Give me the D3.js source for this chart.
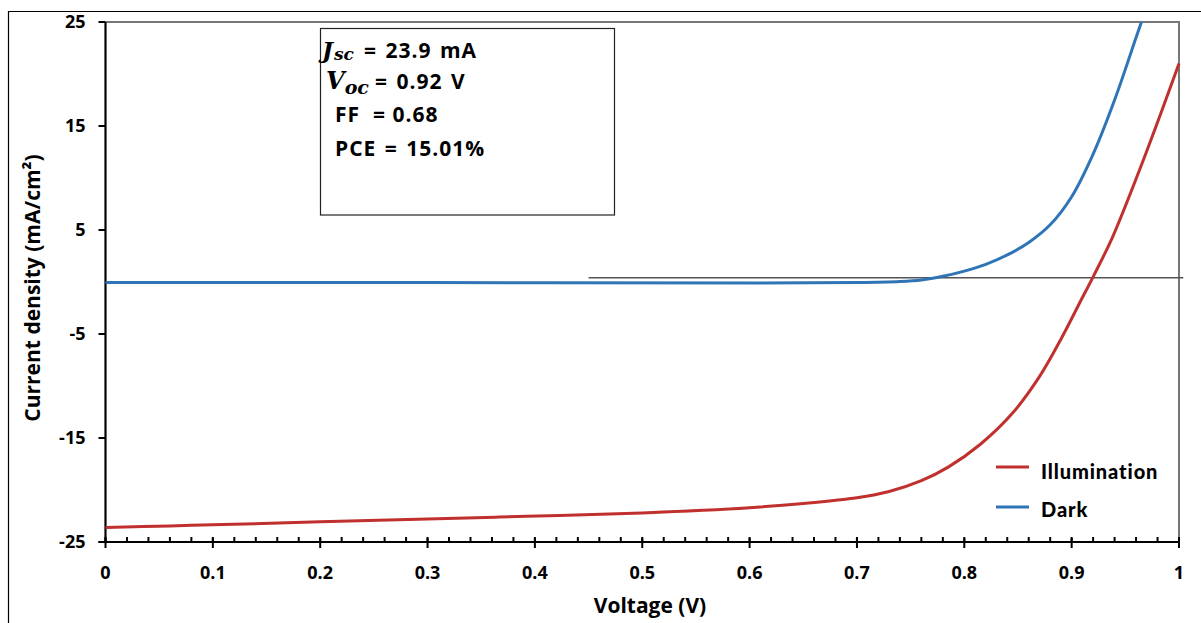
<!DOCTYPE html>
<html>
<head>
<meta charset="utf-8">
<script src="https://cdn.jsdelivr.net/npm/d3@7"></script>
<style>
  body { margin: 0; background: #fff; }
  text { font-family: "Open Sans", sans-serif; font-weight: 700; fill: #000; }
  .legend text { font-family: Lato, sans-serif; font-weight: 900; }
</style>
</head>
<body>
<div id="plot"></div>
<script>
// Illumination curve (voltage V, current density mA/cm2)
const illumV = [0, 0.06, 0.119, 0.2, 0.3, 0.367, 0.423, 0.5, 0.6, 0.65, 0.7, 0.73, 0.76, 0.785, 0.815, 0.845, 0.87, 0.89, 0.908, 0.92, 0.938, 0.97, 1.0];
const illumJ = [-23.6, -23.45, -23.3, -23.05, -22.8, -22.6, -22.45, -22.2, -21.7, -21.3, -20.75, -20.15, -19.1, -17.8, -15.6, -12.6, -9.1, -5.5, -1.9, 0.5, 4.3, 12.6, 21.0];

// Dark curve
const darkV = [0, 0.3, 0.61, 0.7, 0.74, 0.76, 0.78, 0.8, 0.82, 0.84, 0.86, 0.88, 0.9, 0.92, 0.94, 0.96, 0.965];
const darkJ = [-0.05, -0.05, -0.1, -0.05, 0.05, 0.2, 0.55, 1.05, 1.7, 2.6, 3.8, 5.5, 8.2, 12.3, 17.5, 23.5, 25];

// thin reference line
const refV = [0.45, 1.004];
const refJ = [0.4, 0.4];

// ticks
const xTicks = [0, 0.1, 0.2, 0.3, 0.4, 0.5, 0.6, 0.7, 0.8, 0.9, 1];
const xMinorTicks = d3.range(0, 51).map(i => i / 50);
const yTicks = [25, 15, 5, -5, -15, -25];

const seriesNames = ["Illumination", "Dark"];
const seriesColors = ["#c0302e", "#2f74b6"];

const W = 1201, H = 623;
const margin = { top: 22, right: 22, bottom: 81, left: 105.5 };

const x = d3.scaleLinear().domain([0, 1]).range([margin.left, W - margin.right]);
const y = d3.scaleLinear().domain([-25, 25]).range([H - margin.bottom, margin.top]);

const svg = d3.select("#plot").append("svg")
    .attr("width", W)
    .attr("height", H);

// outer frame (top and left only visible)
svg.append("path")
    .attr("d", `M8.5,${H} V11.5 H${W}`)
    .attr("fill", "none")
    .attr("stroke", "#000")
    .attr("stroke-width", 1.2);

// plot area top and right border
svg.append("path")
    .attr("d", `M${x(0)},${y(25)} H${x(1)} V${y(-25)}`)
    .attr("fill", "none")
    .attr("stroke", "#777")
    .attr("stroke-width", 2);

// x axis with minor ticks inside
const xAxis = svg.append("g")
    .attr("transform", `translate(0,${y(-25)})`);
xAxis.selectAll("line.minor")
    .data(xMinorTicks)
    .join("line")
    .attr("class", "minor")
    .attr("x1", d => x(d)).attr("x2", d => x(d))
    .attr("y1", 0).attr("y2", -5)
    .attr("stroke", "#000").attr("stroke-width", 2);
xAxis.selectAll("line.major")
    .data(xTicks)
    .join("line")
    .attr("class", "major")
    .attr("x1", d => x(d)).attr("x2", d => x(d))
    .attr("y1", -4).attr("y2", 6)
    .attr("stroke", "#000").attr("stroke-width", 2);
xAxis.append("line")
    .attr("x1", x(0) - 7).attr("x2", x(1) + 1)
    .attr("stroke", "#000").attr("stroke-width", 2.2);
xAxis.selectAll("text")
    .data(xTicks)
    .join("text")
    .attr("x", d => x(d))
    .attr("y", 37)
    .attr("text-anchor", "middle")
    .attr("font-size", 18)
    .text(d => String(d));

// y axis
const yAxis = svg.append("g")
    .attr("transform", `translate(${x(0)},0)`);
yAxis.append("line")
    .attr("y1", y(25)).attr("y2", y(-25))
    .attr("stroke", "#000").attr("stroke-width", 2.2);
yAxis.selectAll("line.tick")
    .data(yTicks)
    .join("line")
    .attr("class", "tick")
    .attr("x1", -7).attr("x2", 0)
    .attr("y1", d => y(d)).attr("y2", d => y(d))
    .attr("stroke", "#000").attr("stroke-width", 2);
yAxis.selectAll("text")
    .data(yTicks)
    .join("text")
    .attr("x", -20)
    .attr("y", d => y(d))
    .attr("dy", "0.36em")
    .attr("text-anchor", "end")
    .attr("font-size", 18)
    .text(d => String(d));

// axis titles
svg.append("text")
    .attr("x", 650).attr("y", 613)
    .attr("text-anchor", "middle")
    .attr("font-size", 21)
    .text("Voltage (V)");
svg.append("text")
    .attr("transform", `translate(40,${y(0) + 6}) rotate(-90)`)
    .attr("text-anchor", "middle")
    .attr("font-size", 21)
    .text("Current density (mA/cm²)");

// curves
const line = d3.line()
    .x(d => x(d[0]))
    .y(d => y(d[1]))
    .curve(d3.curveCatmullRom.alpha(0.5));

svg.append("path")
    .datum(refV.map((v, i) => [v, refJ[i]]))
    .attr("d", d3.line().x(d => x(d[0])).y(d => y(d[1])))
    .attr("fill", "none")
    .attr("stroke", "#555")
    .attr("stroke-width", 1.5);

svg.append("path")
    .datum(darkV.map((v, i) => [v, darkJ[i]]))
    .attr("d", line)
    .attr("fill", "none")
    .attr("stroke", seriesColors[1])
    .attr("stroke-width", 3);

svg.append("path")
    .datum(illumV.map((v, i) => [v, illumJ[i]]))
    .attr("d", line)
    .attr("fill", "none")
    .attr("stroke", seriesColors[0])
    .attr("stroke-width", 3);

// parameters box
const box = svg.append("g");
box.append("rect")
    .attr("x", 320.5).attr("y", 28.5)
    .attr("width", 294).attr("height", 186.5)
    .attr("fill", "#fff")
    .attr("stroke", "#222")
    .attr("stroke-width", 1.2);

const serif = "'DejaVu Serif', 'Liberation Serif', serif";
const t1 = box.append("text").attr("x", 322).attr("y", 58).attr("font-size", 21);
t1.append("tspan").attr("font-family", serif).attr("font-style", "italic").attr("font-size", 23).text("J");
t1.append("tspan").attr("font-family", serif).attr("font-style", "italic").attr("font-size", 17).attr("dx", 1).attr("dy", 2).text("sc");
t1.append("tspan").attr("x", 364).attr("dy", -2).attr("letter-spacing", 1).attr("word-spacing", 2).text("= 23.9 mA");

const t2 = box.append("text").attr("x", 326).attr("y", 89).attr("font-size", 21);
t2.append("tspan").attr("font-family", serif).attr("font-style", "italic").attr("font-size", 24).text("V");
t2.append("tspan").attr("font-family", serif).attr("font-style", "italic").attr("font-size", 19).attr("dy", 5).text("oc");
t2.append("tspan").attr("x", 375).attr("dy", -5).attr("letter-spacing", 1).attr("word-spacing", 2).text("= 0.92 V");

box.append("text").attr("x", 335).attr("y", 122).attr("font-size", 21).attr("letter-spacing", 1)
    .attr("xml:space", "preserve").text("FF  = 0.68");
box.append("text").attr("x", 335).attr("y", 156).attr("font-size", 21).attr("letter-spacing", 1)
    .attr("word-spacing", 2).text("PCE = 15.01%");

// legend
const legend = svg.append("g").attr("class", "legend");
const legendY = [467, 507];
const legendTextY = [479, 517];
seriesNames.forEach((name, i) => {
    legend.append("line")
        .attr("x1", 996).attr("x2", 1029)
        .attr("y1", legendY[i]).attr("y2", legendY[i])
        .attr("stroke", seriesColors[i])
        .attr("stroke-width", 3);
    legend.append("text")
        .attr("x", 1041).attr("y", legendTextY[i])
        .attr("font-size", 20)
        .attr("letter-spacing", 0.9)
        .text(name);
});
</script>
</body>
</html>
